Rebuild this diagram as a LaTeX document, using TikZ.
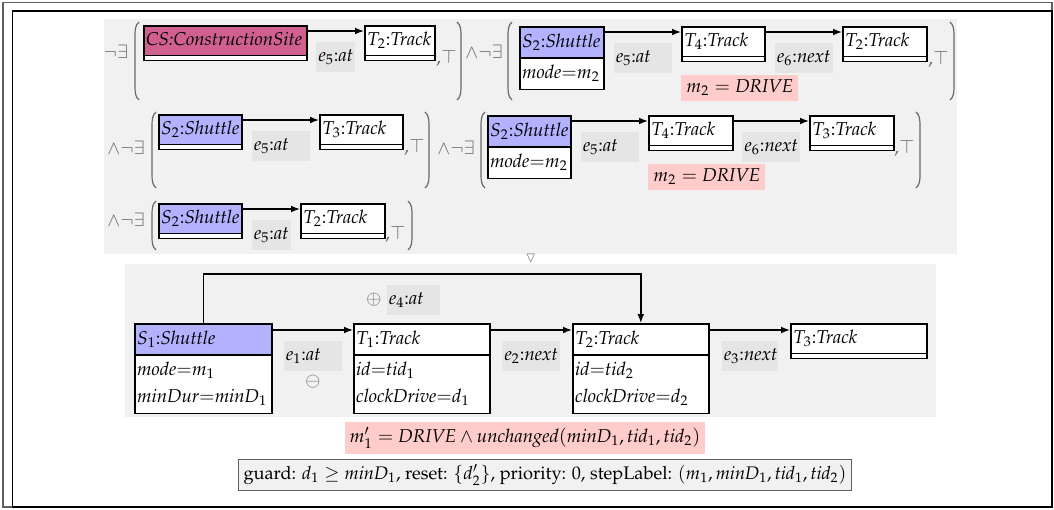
\documentclass[tikz,border=0pt]{standalone}
\usepackage{amsmath,amssymb}
\usepackage[T1]{fontenc}
\usepackage{mathpazo}
\usepackage{xcolor}
\usepackage{tikz}
\usetikzlibrary{arrows.meta,positioning,calc,shapes.multipart,backgrounds}

\definecolor{shuttlefill}{RGB}{178,178,255}
\definecolor{sitefill}{RGB}{208,96,144}
\definecolor{bggrey}{RGB}{241,241,241}
\definecolor{lblgrey}{RGB}{229,229,229}
\definecolor{condpink}{RGB}{255,204,204}
\definecolor{opgrey}{RGB}{105,105,105}
\definecolor{framegrey}{RGB}{95,95,95}

\newcommand{\vstr}{\rule[-4pt]{0pt}{12.5pt}}
\newcommand{\tname}[2]{\vstr$#1$:\textit{#2}}
\newcommand{\attr}[1]{\vstr$#1$}
% grey round brackets round a pattern: x, top, bottom
\newcommand{\parenL}[3]{\draw[parline] ({#1+4},#2) .. controls ({#1+0.5},{#2+3}) and (#1,{#2+7}) .. (#1,{#2+14}) -- (#1,{#3-14}) .. controls (#1,{#3-7}) and ({#1+0.5},{#3-3}) .. ({#1+4},#3);}
\newcommand{\parenR}[3]{\draw[parline] ({#1-4},#2) .. controls ({#1-0.5},{#2+3}) and (#1,{#2+7}) .. (#1,{#2+14}) -- (#1,{#3-14}) .. controls (#1,{#3-7}) and ({#1-0.5},{#3-3}) .. ({#1-4},#3);}

\begin{document}
\begin{tikzpicture}[x=0.5pt,y=-0.5pt,
  font=\fontsize{9.3pt}{11.5pt}\selectfont,
  objbox/.style={rectangle split,rectangle split parts=2,draw,line width=0.8pt,anchor=north west,
    minimum width=#1,align=left,rectangle split part align=left,inner xsep=1.2pt,inner ysep=1.2pt,
    rectangle split part fill={white,white}},
  objhead/.style={draw,line width=0.8pt,anchor=north west,text width=#1,align=left,
    inner xsep=1.2pt,inner ysep=1.2pt,text depth=6.4pt,
    path picture={
      \fill[white] (path picture bounding box.south west) rectangle ([yshift=2.4pt]path picture bounding box.south east);
      \draw[line width=0.8pt] ([yshift=2.4pt]path picture bounding box.south west) -- ([yshift=2.4pt]path picture bounding box.south east);}},
  track/.style={objbox=#1},
  shuttle/.style={objbox=#1,rectangle split part fill={shuttlefill,white}},
  trackh/.style={objhead=#1,fill=white},
  shuttleh/.style={objhead=#1,fill=shuttlefill},
  siteh/.style={objhead=#1,fill=sitefill},
  arr/.style={-{Latex[length=4.5pt,width=3.4pt]},line width=0.7pt},
  lbl/.style={fill=lblgrey,inner xsep=1pt,inner ysep=1.2pt,text width=#1,align=left,below=5pt},
  quant/.style={text=opgrey,inner sep=0pt},
  parline/.style={opgrey,line width=0.6pt},
  cond/.style={fill=condpink,inner sep=2.5pt},
]
\useasboundingbox (0,0) rectangle (1054,509);

% forbidden patterns, first row
\node[quant] (q1) at (116,52) {$\neg\exists$};
\node[siteh=79.1pt] (cs) at (143,25) {\vstr\textit{CS:ConstructionSite}};
\node[trackh=32.6pt] (t2a) at (364,25) {\tname{T_2}{Track}};
\node[quant,anchor=base west] (top1) at (436,63) {,$\top$};
\node[quant] (q2) at (484,52) {$\wedge\neg\exists$};
\node[shuttle=42pt] (s2a) at (519,26) {\tname{S_2}{Shuttle}\nodepart{two}\attr{\mathit{mode}{=}m_2}};
\node[trackh=39.1pt] (t4a) at (681,26) {\tname{T_4}{Track}};
\node[trackh=39.6pt] (t2b) at (842,26) {\tname{T_2}{Track}};
\node[quant,anchor=base west] (top2) at (928,64) {,$\top$};
\node[cond,anchor=north west] (c1) at ([yshift=-6pt]t4a.south west) {$m_2 = \mathit{DRIVE}$};
\parenL{135}{22}{100} \parenR{461}{22}{100}
\parenL{508}{22}{100} \parenR{954}{22}{100}

% second row
\node[quant] (q3) at (126,148) {$\wedge\neg\exists$};
\node[shuttleh=39.1pt] (s2b) at (158,114) {\tname{S_2}{Shuttle}};
\node[trackh=39.1pt] (t3a) at (319,114) {\tname{T_3}{Track}};
\node[quant,anchor=base west] (top3) at (404,152) {,$\top$};
\node[quant] (q4) at (456,148) {$\wedge\neg\exists$};
\node[shuttle=41.5pt] (s2c) at (487,115) {\tname{S_2}{Shuttle}\nodepart{two}\attr{\mathit{mode}{=}m_2}};
\node[trackh=39.6pt] (t4b) at (648,115) {\tname{T_4}{Track}};
\node[trackh=39.6pt] (t3b) at (809,115) {\tname{T_3}{Track}};
\node[quant,anchor=base west] (top4) at (894,153) {,$\top$};
\node[cond,anchor=north west] (c2) at ([yshift=-6pt]t4b.south west) {$m_2 = \mathit{DRIVE}$};
\parenL{152}{112}{188} \parenR{429}{112}{188}
\parenL{481}{112}{188} \parenR{920}{112}{188}

% third row
\node[quant] (q5) at (126,220) {$\wedge\neg\exists$};
\node[shuttleh=39.1pt] (s2d) at (158,203) {\tname{S_2}{Shuttle}};
\node[trackh=39.6pt] (t2c) at (300,203) {\tname{T_2}{Track}};
\node[quant,anchor=base west] (top5) at (385,239) {,$\top$};
\parenL{152}{201}{250} \parenR{412}{201}{250}

\node[quant,font=\scriptsize] (rewr) at (531,258) {$\triangledown$};

% rule
\node[shuttle=68.5pt] (s1) at (134,323) {\tname{S_1}{Shuttle}\nodepart{two}\attr{\mathit{mode}{=}m_1}\\\attr{\mathit{minDur}{=}\mathit{minD}_1}};
\node[track=68pt] (t1) at (353,323) {\tname{T_1}{Track}\nodepart{two}\attr{\mathit{id}{=}\mathit{tid}_1}\\\attr{\mathit{clockDrive}{=}d_1}};
\node[track=68pt] (t2) at (572,323) {\tname{T_2}{Track}\nodepart{two}\attr{\mathit{id}{=}\mathit{tid}_2}\\\attr{\mathit{clockDrive}{=}d_2}};
\node[trackh=65.6pt] (t3) at (790,323) {\tname{T_3}{Track}};

\node[cond] (post) at (525,438) {$m_1' = \mathit{DRIVE} \wedge \mathit{unchanged}(\mathit{minD}_1, \mathit{tid}_1, \mathit{tid}_2)$};
\node[draw=framegrey,fill=bggrey,line width=0.6pt,inner sep=2.5pt,font=\fontsize{9.1pt}{11pt}\selectfont] (guard) at (545,475) {guard: $d_1 \geq \mathit{minD}_1$, reset: $\{d_2'\}$, priority: 0, stepLabel: $(m_1, \mathit{minD}_1, \mathit{tid}_1, \mathit{tid}_2)$};

\draw[arr] ([yshift=-3pt]cs.north east) -- node[lbl=17.5pt] (l1) {\tname{e_5}{at}} ([yshift=-3pt]t2a.north west);
\draw[arr] ([yshift=-3pt]s2a.north east) -- node[lbl=27pt] (l2) {\tname{e_5}{at}} ([yshift=-3pt]t4a.north west);
\draw[arr] ([yshift=-3pt]t4a.north east) -- node[lbl=27pt] (l3) {\tname{e_6}{next}} ([yshift=-3pt]t2b.north west);
\draw[arr] ([yshift=-3pt]s2b.north east) -- node[lbl=27pt] (l4) {\tname{e_5}{at}} ([yshift=-3pt]t3a.north west);
\draw[arr] ([yshift=-3pt]s2c.north east) -- node[lbl=27pt] (l5) {\tname{e_5}{at}} ([yshift=-3pt]t4b.north west);
\draw[arr] ([yshift=-3pt]t4b.north east) -- node[lbl=27pt] (l6) {\tname{e_6}{next}} ([yshift=-3pt]t3b.north west);
\draw[arr] ([yshift=-3pt]s2d.north east) -- node[lbl=17.5pt] (l7) {\tname{e_5}{at}} ([yshift=-3pt]t2c.north west);

\draw[arr] ([yshift=-3.5pt]s1.north east) -- node[lbl=27pt] (le1) {\tname{e_1}{at}} ([yshift=-3.5pt]t1.north west);
\draw[arr] ([yshift=-3.5pt]t1.north east) -- node[lbl=27pt] (le2) {\tname{e_2}{next}} ([yshift=-3.5pt]t2.north west);
\draw[arr] ([yshift=-3.5pt]t2.north east) -- node[lbl=26pt] (le3) {\tname{e_3}{next}} ([yshift=-3.5pt]t3.north west);
\draw[arr] (s1.north) -- ++(0,-49) -| node[pos=0.24,lbl=24.5pt] (le4) {\tname{e_4}{at}} (t2.north);
\node[text=opgrey,inner sep=0pt,below=2pt of le1] (del1) {$\ominus$};
\node[text=opgrey,inner sep=0pt,left=2pt of le4] (add4) {$\oplus$};

\begin{scope}[on background layer]
\fill[bggrey] (104,19) rectangle (957,254);
\fill[bggrey] (125,264) rectangle (936,417);
\draw[framegrey,line width=0.7pt] (3,2.5) rectangle (1052,507);
\draw[line width=0.7pt] (12.5,11) rectangle (1052,507);
\end{scope}
\end{tikzpicture}
\end{document}
